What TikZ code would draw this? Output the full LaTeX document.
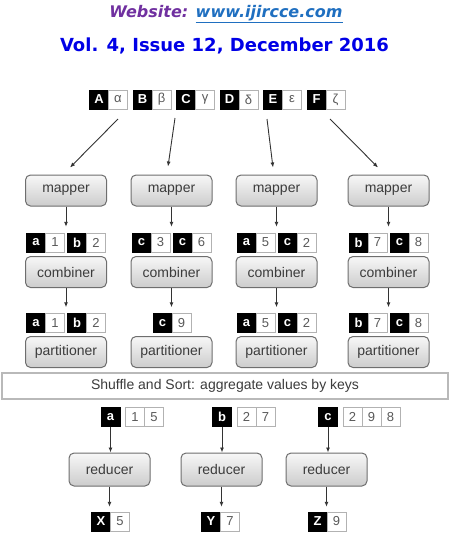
\documentclass[tikz,border=0pt]{standalone}
\usepackage{fontspec}
\setmainfont{Liberation Sans}
\newfontfamily\headfont{DejaVu Sans}
\usetikzlibrary{arrows.meta, calc, positioning}
\definecolor{webpurple}{HTML}{7030A0}
\definecolor{weblink}{HTML}{1F6FC0}
\definecolor{volblue}{HTML}{0000E6}
\definecolor{boxline}{HTML}{6E6E6E}
\definecolor{boxtext}{HTML}{3C3C3C}

\begin{document}
\begin{tikzpicture}[x=1pt, y=-1pt,
    proc/.style={draw=boxline, line width=1pt, rounded corners=5pt, top color=gray!6, bottom color=gray!40,
        minimum width=81pt, minimum height=31pt, inner sep=0pt, text=boxtext, font=\fontsize{14}{16}\selectfont},
    keycell/.style={fill=black, draw=black, text=white, minimum width=19pt, minimum height=19pt,
        inner sep=0pt, font=\bfseries\fontsize{13}{15}\selectfont},
    valcell/.style={fill=white, draw=gray!60, line width=0.8pt, text=gray!70!black, minimum width=19pt,
        minimum height=19pt, inner sep=0pt, font=\fontsize{13}{15}\selectfont},
    arr/.style={-{Latex[length=5pt,width=4pt]}, draw=black!80, line width=0.9pt}]
    \useasboundingbox (0,0) rectangle (452,544);

    % Header
    \node[anchor=base, font=\headfont\bfseries\itshape\fontsize{16}{18}\selectfont] (web) at (226,17)
        {\textcolor{webpurple}{Website:} \textcolor{weblink}{\underline{www.ijircce.com}}};
    \node[anchor=base, text=volblue, font=\headfont\bfseries\fontsize{18}{20}\selectfont] (vol) at (224.5,51)
        {Vol. 4, Issue 12, December 2016};

    % Input pairs
    \node[keycell] (ik1) at (99,99.5) {A};
    \node[valcell] (iv1) at (118,99.5) {α};
    \node[keycell] (ik2) at (142.5,99.5) {B};
    \node[valcell] (iv2) at (161.5,99.5) {β};
    \node[keycell] (ik3) at (186,99.5) {C};
    \node[valcell] (iv3) at (205,99.5) {γ};
    \node[keycell] (ik4) at (229.5,99.5) {D};
    \node[valcell] (iv4) at (248.5,99.5) {δ};
    \node[keycell] (ik5) at (273,99.5) {E};
    \node[valcell] (iv5) at (292,99.5) {ε};
    \node[keycell] (ik6) at (316.5,99.5) {F};
    \node[valcell] (iv6) at (335.5,99.5) {ζ};

    % Mappers
    \node[proc] (m1) at (66,190.5) {mapper};
    \node[proc] (m2) at (171.5,190.5) {mapper};
    \node[proc] (m3) at (276.5,190.5) {mapper};
    \node[proc] (m4) at (388.5,190.5) {mapper};

    \coordinate (s1) at (118,119);
    \coordinate (s2) at (175,118);
    \coordinate (s3) at (267,119);
    \coordinate (s4) at (330,119);
    \draw[arr] (s1) -- ([shift={(4,-7)}]m1.north);
    \draw[arr] (s2) -- ([shift={(-3.5,-8)}]m2.north);
    \draw[arr] (s3) -- ([shift={(-3.5,-7)}]m3.north);
    \draw[arr] (s4) -- ([shift={(-10.5,-7)}]m4.north);

    % Mapper outputs
    \node[keycell] (mo1k1) at (36,242.5) {a};
    \node[valcell] (mo1v1) at (55,242.5) {1};
    \node[keycell] (mo1k2) at (77,242.5) {b};
    \node[valcell] (mo1v2) at (96,242.5) {2};
    \node[keycell] (mo2k1) at (141.5,242.5) {c};
    \node[valcell] (mo2v1) at (160.5,242.5) {3};
    \node[keycell] (mo2k2) at (182.5,242.5) {c};
    \node[valcell] (mo2v2) at (201.5,242.5) {6};
    \node[keycell] (mo3k1) at (246.5,242.5) {a};
    \node[valcell] (mo3v1) at (265.5,242.5) {5};
    \node[keycell] (mo3k2) at (287.5,242.5) {c};
    \node[valcell] (mo3v2) at (306.5,242.5) {2};
    \node[keycell] (mo4k1) at (358.5,242.5) {b};
    \node[valcell] (mo4v1) at (377.5,242.5) {7};
    \node[keycell] (mo4k2) at (399.5,242.5) {c};
    \node[valcell] (mo4v2) at (418.5,242.5) {8};

    \draw[arr, shorten >=6pt] (m1.south) -- (m1.south |- mo1k1.north);
    \draw[arr, shorten >=6pt] (m2.south) -- (m2.south |- mo2k1.north);
    \draw[arr, shorten >=6pt] (m3.south) -- (m3.south |- mo3k1.north);
    \draw[arr, shorten >=6pt] (m4.south) -- (m4.south |- mo4k1.north);

    % Combiners
    \node[proc] (c1) at (66,272) {combiner};
    \node[proc] (c2) at (171.5,272) {combiner};
    \node[proc] (c3) at (276.5,272) {combiner};
    \node[proc] (c4) at (388.5,272) {combiner};

    % Combiner outputs
    \node[keycell] (po1k1) at (36,323) {a};
    \node[valcell] (po1v1) at (55,323) {1};
    \node[keycell] (po1k2) at (77,323) {b};
    \node[valcell] (po1v2) at (96,323) {2};
    \node[keycell] (po2k1) at (162.5,323) {c};
    \node[valcell] (po2v1) at (181.5,323) {9};
    \node[keycell] (po3k1) at (246.5,323) {a};
    \node[valcell] (po3v1) at (265.5,323) {5};
    \node[keycell] (po3k2) at (287.5,323) {c};
    \node[valcell] (po3v2) at (306.5,323) {2};
    \node[keycell] (po4k1) at (358.5,323) {b};
    \node[valcell] (po4v1) at (377.5,323) {7};
    \node[keycell] (po4k2) at (399.5,323) {c};
    \node[valcell] (po4v2) at (418.5,323) {8};

    \draw[arr, shorten >=6pt] (c1.south) -- (c1.south |- po1k1.north);
    \draw[arr, shorten >=6pt] (c2.south) -- (c2.south |- po2k1.north);
    \draw[arr, shorten >=6pt] (c3.south) -- (c3.south |- po3k1.north);
    \draw[arr, shorten >=6pt] (c4.south) -- (c4.south |- po4k1.north);

    % Partitioners
    \node[proc] (p1) at (66,352) {partitioner};
    \node[proc] (p2) at (171.5,352) {partitioner};
    \node[proc] (p3) at (276.5,352) {partitioner};
    \node[proc] (p4) at (388.5,352) {partitioner};

    % Shuffle and sort
    \node[draw=gray!55, line width=1.2pt, fill=white, minimum width=446pt, minimum height=26pt, inner sep=0pt,
        text=boxtext, font=\fontsize{14}{16}\selectfont] (shuffle) at (225,386)
        {Shuffle and Sort: aggregate values by keys};

    % Reducer inputs
    \node[keycell] (rk1) at (110.5,417) {a};
    \node[valcell] (rv1a) at (135,417) {1};
    \node[valcell] (rv1b) at (154,417) {5};
    \node[keycell] (rk2) at (222,417) {b};
    \node[valcell] (rv2a) at (246.5,417) {2};
    \node[valcell] (rv2b) at (265.5,417) {7};
    \node[keycell] (rk3) at (328,417) {c};
    \node[valcell] (rv3a) at (352.5,417) {2};
    \node[valcell] (rv3b) at (371.5,417) {9};
    \node[valcell] (rv3c) at (390.5,417) {8};

    % Reducers
    \node[proc, minimum height=33pt] (r1) at (109.5,469.5) {reducer};
    \node[proc, minimum height=33pt] (r2) at (221.5,469.5) {reducer};
    \node[proc, minimum height=33pt] (r3) at (326.5,469.5) {reducer};

    \draw[arr] (rk1.south) -- (rk1.south |- r1.north);
    \draw[arr] (rk2.south) -- (rk2.south |- r2.north);
    \draw[arr] (rk3.south) -- (rk3.south |- r3.north);

    % Outputs
    \node[keycell] (ok1) at (101,521.5) {X};
    \node[valcell] (ov1) at (120,521.5) {5};
    \node[keycell] (ok2) at (211,521.5) {Y};
    \node[valcell] (ov2) at (230,521.5) {7};
    \node[keycell] (ok3) at (317.5,521.5) {Z};
    \node[valcell] (ov3) at (336.5,521.5) {9};

    \draw[arr, shorten >=5pt] (r1.south) -- (r1.south |- ok1.north);
    \draw[arr, shorten >=5pt] (r2.south) -- (r2.south |- ok2.north);
    \draw[arr, shorten >=5pt] (r3.south) -- (r3.south |- ok3.north);
\end{tikzpicture}
\end{document}
